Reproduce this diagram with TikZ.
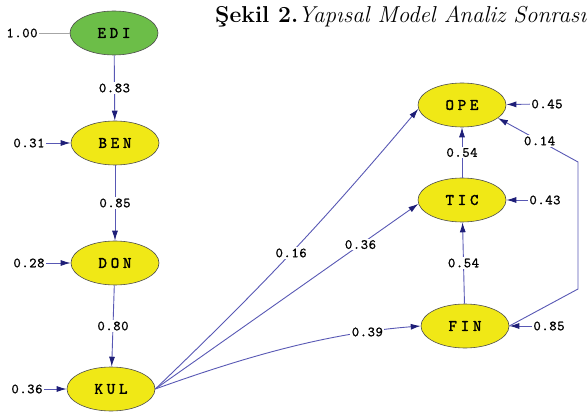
\documentclass[tikz,border=0pt]{standalone}
\usepackage{fontspec}
\usetikzlibrary{shapes.geometric,arrows.meta}
\newfontfamily\lblfont[LetterSpace=4,FakeBold=1]{lmmono10-regular.otf}
\newfontfamily\nodefontf[LetterSpace=24,FakeBold=2]{lmmono10-regular.otf}
\definecolor{yel}{RGB}{240,232,22}
\definecolor{grn}{RGB}{108,190,72}
\definecolor{edgecol}{RGB}{88,88,180}
\definecolor{headcol}{RGB}{30,30,120}
\tikzset{
  lat/.style={ellipse, draw=black!70, line width=0.6pt, fill=yel, minimum width=88pt, minimum height=44pt, inner sep=0pt, font=\nodefontf\fontsize{16}{16}\selectfont},
  lbl/.style={font=\lblfont\fontsize{14}{14}\selectfont, inner sep=1.5pt},
  onl/.style={lbl, fill=white},
  con/.style={draw=edgecol, line width=0.9pt, -{Latex[length=10pt,width=6pt,color=headcol]}},
}
\begin{document}
\begin{tikzpicture}[x=1pt,y=-1pt]
\useasboundingbox (0,0) rectangle (588,419);
% title
\node[anchor=base west, inner sep=0pt, font=\fontsize{23}{26}\selectfont] (title) at (215,23) {\textbf{Şekil 2.}\textit{Yapısal Model Analiz Sonrası}};
% latent nodes
\node[lat, fill=grn] (EDI) at (114,33) {EDI};
\node[lat] (BEN) at (115,143) {BEN};
\node[lat] (DON) at (115,263) {DON};
\node[lat] (KUL) at (111,389) {KUL};
\node[lat] (OPE) at (462,105) {OPE};
\node[lat] (TIC) at (462,200) {TIC};
\node[lat] (FIN) at (465,326) {FIN};
% error labels
\node[lbl] (e1) at (22,33) {1.00};
\node[lbl] (e2) at (29,143) {0.31};
\node[lbl] (e3) at (29,263) {0.28};
\node[lbl] (e4) at (27,389) {0.36};
\node[lbl] (e5) at (547,104) {0.45};
\node[lbl] (e6) at (545,200) {0.43};
\node[lbl] (e7) at (549,326) {0.85};
\draw[gray!70, line width=0.8pt] (e1) -- (EDI);
\draw[con] (e2) -- (BEN);
\draw[con] (e3) -- (DON);
\draw[con] (e4) -- (KUL);
\draw[con] (e5) -- (OPE);
\draw[con] (e6) -- (TIC);
\draw[con] (e7) -- (FIN);
% structural paths
\draw[con] (EDI) -- node[onl] {0.83} (BEN);
\draw[con] (BEN) -- node[onl] {0.85} (DON);
\draw[con] (DON) -- node[onl] {0.80} (KUL);
\draw[con] (TIC) -- node[onl] {0.54} (OPE);
\draw[con] (FIN) -- node[onl] {0.54} (TIC);
\draw[con] (KUL.east) to[bend right=3] node[onl, pos=0.5] {0.16} (OPE.185);
\draw[con] (KUL.east) -- node[onl, pos=0.78] {0.36} (TIC.185);
\draw[con] (KUL.east) .. controls (250,355) and (330,333) .. node[onl, pos=0.8] {0.39} (FIN.west);
\coordinate (b1) at (578,289);
\coordinate (b2) at (578,162);
\draw[con] (FIN.east) -- (b1) -- (b2) -- node[onl, pos=0.48] {0.14} (OPE.-20);
\end{tikzpicture}
\end{document}
